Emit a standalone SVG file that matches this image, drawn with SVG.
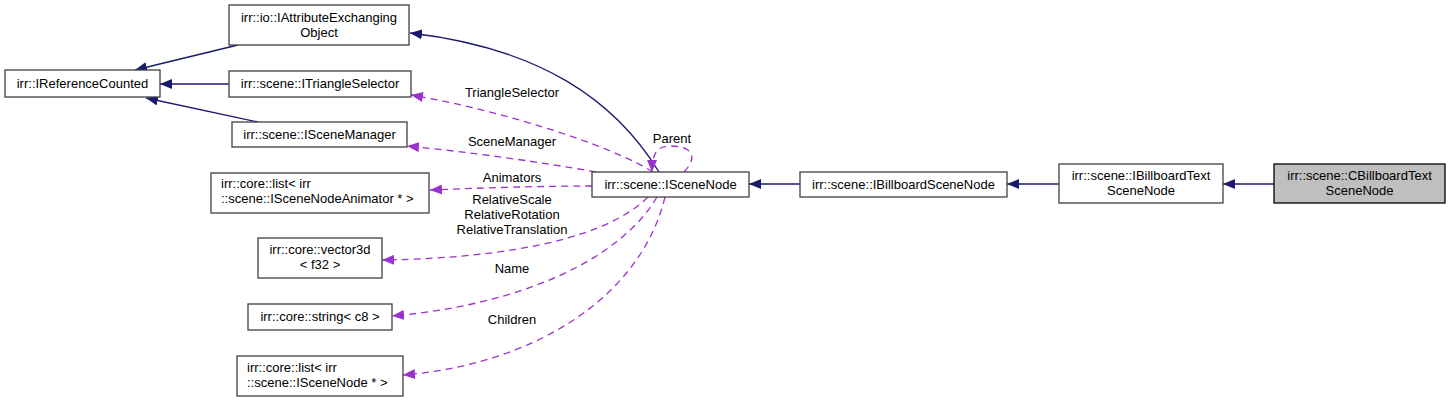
<svg xmlns="http://www.w3.org/2000/svg" width="1451" height="401" viewBox="0 0 1451 401">
<style>
.box{fill:#ffffff;stroke:#404040;stroke-width:1.3}
.cur{fill:#bfbfbf;stroke:#000000;stroke-width:1.3}
text{font-family:"Liberation Sans",Arial,sans-serif;font-size:13px;fill:#000000}
.c{text-anchor:middle}
.inh{fill:none;stroke:#191970;stroke-width:1.3;marker-end:url(#an)}
.use{fill:none;stroke:#9a32cd;stroke-width:1.3;stroke-dasharray:7,5;marker-end:url(#ap)}
</style>
<defs>
<marker id="an" markerUnits="userSpaceOnUse" markerWidth="13" markerHeight="10" refX="12" refY="5" orient="auto"><path d="M0,0 L12,5 L0,10 z" fill="#191970"/></marker>
<marker id="ap" markerUnits="userSpaceOnUse" markerWidth="13" markerHeight="10" refX="12" refY="5" orient="auto"><path d="M0,0 L12,5 L0,10 z" fill="#9a32cd"/></marker>
</defs>
<rect width="1451" height="401" fill="#ffffff"/>
<g id="edges">
<path class="inh" d="M238,45 L135,70"/>
<path class="inh" d="M229,84 L160,84"/>
<path class="inh" d="M258,122 L146,98"/>
<path class="inh" d="M659,172 C615,100 540,48 410,33"/>
<path class="inh" d="M800,184 L749,184"/>
<path class="inh" d="M1059,184 L1007,184"/>
<path class="inh" d="M1274,184 L1223,184"/>
<path class="use" d="M653,172 C610,145 500,110 411,95"/>
<path class="use" d="M596,172 C540,162 470,152 407,146"/>
<path class="use" d="M592,186 C540,186 480,188 430,190"/>
<path class="use" d="M648,197 C610,235 520,258 382,260"/>
<path class="use" d="M657,197 C620,260 520,305 392,316"/>
<path class="use" d="M665,197 C640,300 530,365 403,375"/>
<path class="use" d="M684,172 C700,155 690,146 670,146 C658,146 652,152 652,172"/>
<text class="c" x="512" y="97">TriangleSelector</text>
<text class="c" x="512" y="146">SceneManager</text>
<text class="c" x="512" y="182">Animators</text>
<text class="c" x="512" y="204">RelativeScale</text>
<text class="c" x="512" y="219">RelativeRotation</text>
<text class="c" x="512" y="234">RelativeTranslation</text>
<text class="c" x="512" y="273">Name</text>
<text class="c" x="512" y="324">Children</text>
<text class="c" x="672" y="143">Parent</text>
</g>
<g id="n_refcounted"><rect class="box" x="5" y="70" width="155" height="27"/><text class="c" x="82.5" y="88">irr::IReferenceCounted</text></g>
<g id="n_attr"><rect class="box" x="229" y="5" width="180" height="40"/><text class="c" x="319" y="22">irr::io::IAttributeExchanging</text><text class="c" x="319" y="37">Object</text></g>
<g id="n_trisel"><rect class="box" x="229" y="71" width="182" height="26"/><text class="c" x="320" y="88">irr::scene::ITriangleSelector</text></g>
<g id="n_scenemgr"><rect class="box" x="232" y="122" width="175" height="25"/><text class="c" x="319.5" y="139">irr::scene::ISceneManager</text></g>
<g id="n_animlist"><rect class="box" x="211" y="173" width="218" height="40"/><text x="221" y="188">irr::core::list&lt; irr</text><text x="221" y="203">::scene::ISceneNodeAnimator * &gt;</text></g>
<g id="n_vec"><rect class="box" x="258" y="238" width="124" height="40"/><text class="c" x="320" y="254">irr::core::vector3d</text><text class="c" x="320" y="269">&lt; f32 &gt;</text></g>
<g id="n_str"><rect class="box" x="248" y="304" width="144" height="26"/><text class="c" x="320" y="321">irr::core::string&lt; c8 &gt;</text></g>
<g id="n_nodelist"><rect class="box" x="237" y="356" width="166" height="40"/><text x="247" y="372">irr::core::list&lt; irr</text><text x="247" y="387">::scene::ISceneNode * &gt;</text></g>
<g id="n_scenenode"><rect class="box" x="592" y="172" width="157" height="25"/><text class="c" x="670.5" y="189">irr::scene::ISceneNode</text></g>
<g id="n_bb"><rect class="box" x="800" y="172" width="207" height="25"/><text class="c" x="903.5" y="189">irr::scene::IBillboardSceneNode</text></g>
<g id="n_bbtext"><rect class="box" x="1059" y="164" width="164" height="39"/><text class="c" x="1141" y="180">irr::scene::IBillboardText</text><text class="c" x="1141" y="195">SceneNode</text></g>
<g id="n_cbbtext"><rect class="cur" x="1274" y="164" width="171" height="39"/><text class="c" x="1359.5" y="180">irr::scene::CBillboardText</text><text class="c" x="1359.5" y="195">SceneNode</text></g>
</svg>
